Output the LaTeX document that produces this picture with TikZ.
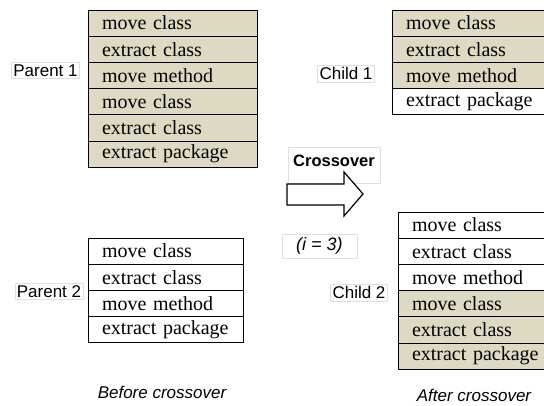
\documentclass[tikz,border=0pt]{standalone}
\usepackage{fontspec}
\setmainfont{Liberation Serif}
\setsansfont{Liberation Sans}
\usetikzlibrary{positioning}
\definecolor{opfill}{HTML}{DDD9C3}

\begin{document}
\begin{tikzpicture}[x=1pt,y=-1pt,node distance=0pt,
    cell/.style={draw,line width=0.8pt,outer sep=0pt,inner xsep=14pt,inner ysep=0pt,
      minimum height=26.2pt,text width=#1,align=left,font=\fontsize{20}{24}\selectfont},
    lbl/.style={draw=black!12,font=\sffamily\fontsize{17}{20}\selectfont,inner sep=2pt},
    note/.style={font=\sffamily\itshape\fontsize{17}{20}\selectfont}]
  \useasboundingbox[fill=white] (0,0) rectangle (544,405);

  % parent 1
  \node[cell=141pt,fill=opfill,anchor=north west] (p1a) at (88,10) {move class};
  \node[cell=141pt,fill=opfill] (p1b) [below=of p1a] {extract class};
  \node[cell=141pt,fill=opfill] (p1c) [below=of p1b] {move method};
  \node[cell=141pt,fill=opfill] (p1d) [below=of p1c] {move class};
  \node[cell=141pt,fill=opfill] (p1e) [below=of p1d] {extract class};
  \node[cell=141pt,fill=opfill] (p1f) [below=of p1e] {extract package};
  \node[lbl] (Parent1) at (45.5,70.5) {Parent 1};

  % parent 2
  \node[cell=127pt,anchor=north west] (p2a) at (88,238) {move class};
  \node[cell=127pt] (p2b) [below=of p2a] {extract class};
  \node[cell=127pt] (p2c) [below=of p2b] {move method};
  \node[cell=127pt] (p2d) [below=of p2c] {extract package};
  \node[lbl] (Parent2) at (49,291.5) {Parent 2};

  % child 1
  \node[cell=140pt,fill=opfill,anchor=north west] (c1a) at (392,10) {move class};
  \node[cell=140pt,fill=opfill] (c1b) [below=of c1a] {extract class};
  \node[cell=140pt,fill=opfill] (c1c) [below=of c1b] {move method};
  \node[cell=140pt] (c1d) [below=of c1c] {extract package};
  \node[lbl] (Child1) at (346,73.5) {Child 1};

  % child 2
  \node[cell=134pt,anchor=north west] (c2a) at (398,212) {move class};
  \node[cell=134pt] (c2b) [below=of c2a] {extract class};
  \node[cell=134pt] (c2c) [below=of c2b] {move method};
  \node[cell=134pt,fill=opfill] (c2d) [below=of c2c] {move class};
  \node[cell=134pt,fill=opfill] (c2e) [below=of c2d] {extract class};
  \node[cell=134pt,fill=opfill] (c2f) [below=of c2e] {extract package};
  \node[lbl] (Child2) at (359,292.5) {Child 2};

  % crossover
  \node[lbl,font=\sffamily\bfseries\fontsize{16.5}{19}\selectfont,anchor=north,
    inner ysep=8pt,text depth=8pt,minimum width=92pt] (Xover) at (334,147) {Crossover};
  \draw[line width=1.2pt,fill=white,line join=miter]
    (287,184) -- (344,184) -- (344,172) -- (363,194) -- (344,216) -- (344,205)
    -- (287,205) -- cycle;
  \node[lbl,note,font=\sffamily\itshape\fontsize{18}{21}\selectfont,
    minimum width=75pt,minimum height=24pt] (Step) at (319.5,246) {(i = 3)};

  \node[note] (Before) at (162,392) {Before crossover};
  \node[note] (After) at (474,395) {After crossover};
\end{tikzpicture}
\end{document}
